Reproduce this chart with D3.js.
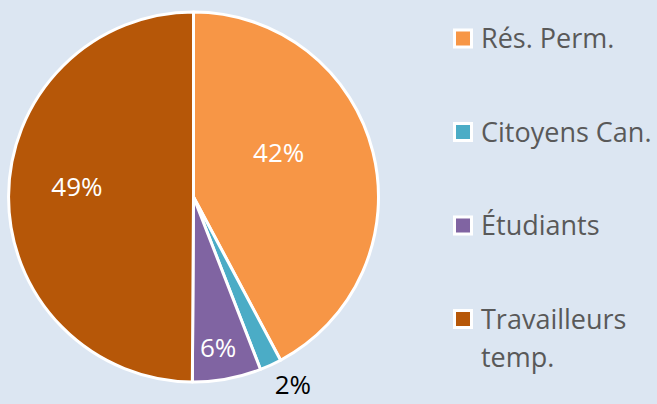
<!DOCTYPE html>
<meta charset="utf-8">
<style>
body { margin: 0; background: #dce6f2; }
.lbl { font-family: "Open Sans", sans-serif; font-size: 26px; }
.leg text { font-family: "Open Sans", sans-serif; font-size: 27px; fill: #595959; }
</style>
<body>
<script src="https://d3js.org/d3.v7.min.js"></script>
<script>

// data
var categories = ["Rés. Perm.", "Citoyens Can.", "Étudiants", "Travailleurs temp."];
var values = [42.2, 1.9, 6.0, 49.9];
var colors = ["#f79646", "#4bacc6", "#8064a2", "#b65708"];
var pctLabels = ["42%", "2%", "6%", "49%"];

// label placement (radius in px, angle nudge in degrees) - excel "best fit" look
var labelR = [96, 212, 153, 117];
var labelNudge = [-13.5, -3.3, 1.2, 5];

var W = 657, H = 404;
var cx = 193.5, cy = 197, R = 185;

var svg = d3.select("body").append("svg")
    .attr("width", W)
    .attr("height", H);

var pie = d3.pie().sort(null).value(function(d) { return d; });
var arcs = pie(values);
var arc = d3.arc().innerRadius(0).outerRadius(R);

var g = svg.append("g").attr("transform", "translate(" + cx + "," + cy + ")");

g.selectAll("path.slice")
    .data(arcs)
    .enter().append("path")
    .attr("class", "slice")
    .attr("d", arc)
    .style("fill", function(d, i) { return colors[i]; })
    .style("stroke", "#fff")
    .style("stroke-width", 3)
    .style("stroke-linejoin", "round");

g.selectAll("text.lbl")
    .data(arcs)
    .enter().append("text")
    .attr("class", "lbl")
    .attr("transform", function(d, i) {
        var a = (d.startAngle + d.endAngle) / 2 + labelNudge[i] * Math.PI / 180;
        var x = labelR[i] * Math.sin(a), y = -labelR[i] * Math.cos(a);
        return "translate(" + x + "," + y + ")";
    })
    .attr("text-anchor", "middle")
    .attr("dy", "0.36em")
    .style("fill", function(d, i) { return i == 1 ? "#000" : "#fff"; })
    .text(function(d, i) { return pctLabels[i]; });

// legend
var legY = d3.scalePoint().domain(categories).range([38.5, 319]);

var leg = svg.append("g").attr("class", "leg")
    .selectAll("g")
    .data(categories)
    .enter().append("g")
    .attr("transform", function(d) { return "translate(453," + legY(d) + ")"; });

leg.append("rect")
    .attr("x", 0).attr("y", -10)
    .attr("width", 20).attr("height", 20)
    .style("fill", "#fff");

leg.append("rect")
    .attr("x", 3).attr("y", -7)
    .attr("width", 14).attr("height", 14)
    .style("fill", function(d, i) { return colors[i]; });

leg.append("text")
    .each(function(d) {
        var words = d == "Travailleurs temp." ? ["Travailleurs", "temp."] : [d];
        var t = d3.select(this);
        words.forEach(function(w, k) {
            t.append("tspan")
                .attr("x", 28)
                .attr("y", k * 38)
                .attr("dy", "0.36em")
                .text(w);
        });
    });

</script>
</body>
